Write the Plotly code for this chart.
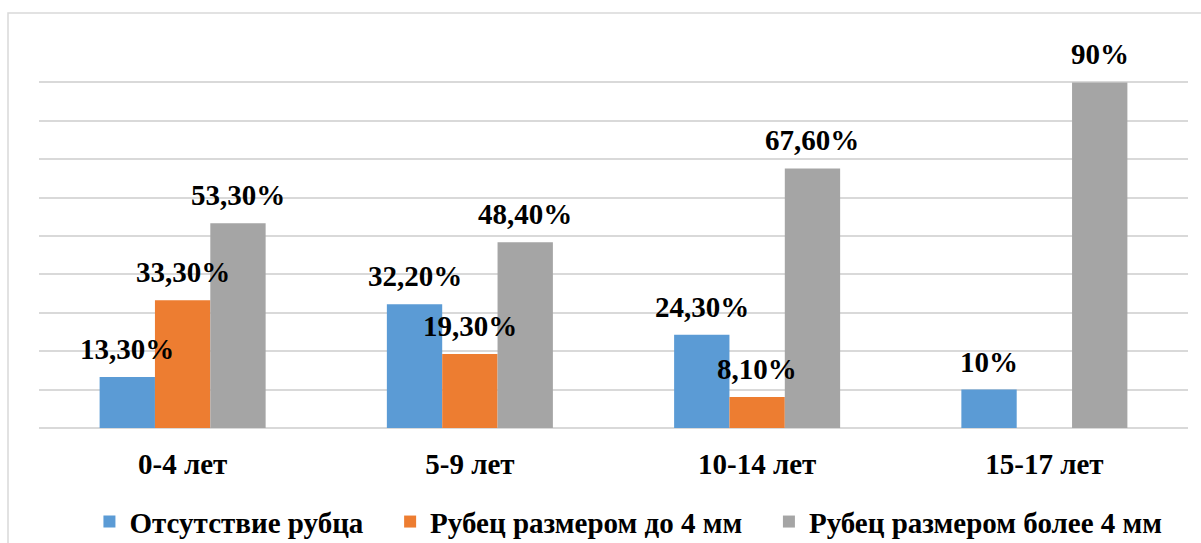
import plotly.graph_objects as go

# Age groups and share of each outcome, %
categories = ["0-4 лет", "5-9 лет", "10-14 лет", "15-17 лет"]
series_names = ["Отсутствие рубца", "Рубец размером до 4 мм", "Рубец размером более 4 мм"]
no_scar = [13.3, 32.2, 24.3, 10]
scar_up_to_4 = [33.3, 19.3, 8.1, None]
scar_over_4 = [53.3, 48.4, 67.6, 90]
colors = ["#5B9BD5", "#ED7D31", "#A5A5A5"]

FONT = "Times New Roman, Liberation Serif, serif"
BARGAP = 0.422
PAD = "\u00a0\u00a0\u00a0"  # extra room between legend entries


def fmt(v):
    if float(v).is_integer():
        return f"{int(v)}%"
    return f"{v:.2f}".replace(".", ",") + "%"


fig = go.Figure()
all_series = [no_scar, scar_up_to_4, scar_over_4]
for k, (name, vals, col) in enumerate(zip(series_names, all_series, colors)):
    label = name + (PAD if k < len(series_names) - 1 else "")
    fig.add_trace(go.Bar(
        x=list(range(len(categories))), y=vals, name=label,
        marker=dict(color=col, line=dict(width=0)),
        hoverinfo="skip",
    ))

# value labels above each bar
bw = (1 - BARGAP) / len(all_series)
for k, vals in enumerate(all_series):
    for i, v in enumerate(vals):
        if v is None:
            continue
        fig.add_annotation(
            x=i + (k - 1) * bw, y=v, text=fmt(v),
            showarrow=False, yanchor="middle", yshift=28,
            font=dict(family=FONT, size=29, weight="bold", color="#000000"),
        )

# light frame around the chart area
fig.add_shape(type="rect", xref="paper", yref="paper",
              x0=(8 - 39) / 1149, x1=1.2, y0=-0.6, y1=(428.3 - 13) / 384.3,
              line=dict(color="#d9d9d9", width=1.5), fillcolor="rgba(0,0,0,0)",
              layer="below")

fig.update_layout(
    width=1201, height=543,
    margin=dict(l=39, r=13, t=44, b=115, autoexpand=False),
    paper_bgcolor="white", plot_bgcolor="white",
    barmode="group", bargap=BARGAP, bargroupgap=0,
    showlegend=True,
    legend=dict(orientation="h", x=0.513, xanchor="center", y=-0.244, yanchor="middle",
                font=dict(family=FONT, size=29, weight="bold", color="#000000"),
                itemclick=False, itemdoubleclick=False),
    font=dict(family=FONT, color="#000000"),
)
fig.update_xaxes(
    tickmode="array", tickvals=list(range(len(categories))),
    ticktext=categories,
    range=[-0.5, len(categories) - 0.5],
    showgrid=False, zeroline=False, showline=False, ticks="",
    ticklabelstandoff=16,
    tickfont=dict(family=FONT, size=29, weight="bold", color="#000000"),
)
fig.update_yaxes(
    range=[0, 100], dtick=10, showticklabels=False,
    showgrid=True, gridcolor="#d9d9d9", gridwidth=1.5,
    zeroline=True, zerolinecolor="#d9d9d9", zerolinewidth=1.5,
    showline=False, ticks="",
)
fig.write_html("out.html")
